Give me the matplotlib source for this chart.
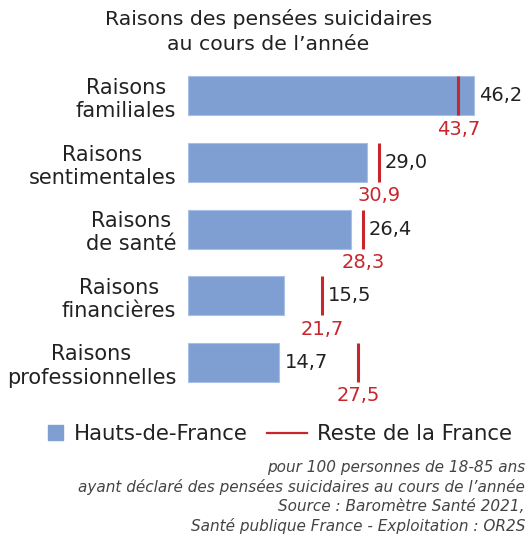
import matplotlib
matplotlib.use("Agg")
import matplotlib.pyplot as plt
from matplotlib.patches import Patch, Rectangle
from matplotlib.lines import Line2D
from matplotlib.legend_handler import HandlerPatch

categories = [
    "Raisons\nfamiliales",
    "Raisons\nsentimentales",
    "Raisons\nde santé",
    "Raisons\nfinancières",
    "Raisons\nprofessionnelles",
]
hdf = [46.2, 29.0, 26.4, 15.5, 14.7]
reste = [43.7, 30.9, 28.3, 21.7, 27.5]

BLUE = "#7f9fd3"
RED = "#c8262c"
INK = "#222222"

plt.rcParams["font.family"] = ["DejaVu Sans"]


def fmt(v):
    return f"{v:.1f}".replace(".", ",")


def square_handle(legend, orig_handle, xdescent, ydescent, width, height, fontsize):
    s = 0.7 * fontsize
    return Rectangle((width - xdescent - s, (height - s) / 2 - ydescent), s, s)


fig = plt.figure(figsize=(5.25, 5.35), dpi=100)
ax = fig.add_axes([188 / 525, 0.2477, 334 / 525, 0.6477])

ypos = list(range(len(categories)))
bar_h = 0.585
ax.barh(ypos, hdf, height=bar_h, color=BLUE, edgecolor="#a9c0e6", linewidth=0.8)

for y, v, r in zip(ypos, hdf, reste):
    ax.plot([r, r], [y - bar_h / 2, y + bar_h / 2], color=RED, linewidth=2.2,
            solid_capstyle="butt")
    # red reference label under the line
    ax.annotate(fmt(r), (r, y + bar_h / 2), xytext=(0, -3), textcoords="offset points",
                ha="center", va="top", color=RED, fontsize=14)
    # value label: after the bar, or after the red line if it is close
    x0 = r if (r > v and r - v < 8) else v
    ax.annotate(fmt(v), (x0, y), xytext=(4, 0), textcoords="offset points",
                ha="left", va="center", color=INK, fontsize=14)

ax.set_xlim(0, 54)
ax.set_ylim(len(categories) - 0.4, -0.6)
ax.set_yticks(ypos)
ax.set_yticklabels(categories, fontsize=15, color=INK, multialignment="center",
                   linespacing=1.2)
ax.tick_params(axis="y", length=0, pad=8.5)
ax.set_xticks([])
for s in ax.spines.values():
    s.set_visible(False)

fig.text(0.511, 0.941, "Raisons des pensées suicidaires\nau cours de l\u2019année",
         ha="center", va="center", fontsize=14.7, color=INK, linespacing=1.45)

handles = [Patch(color=BLUE, label="Hauts-de-France"),
           Line2D([], [], color=RED, linewidth=1.6, label="Reste de la France")]
fig.legend(handles=handles, loc="center left", bbox_to_anchor=(23 / 525, 1 - 434 / 535),
           ncol=2, frameon=False, fontsize=15.3, handlelength=1.88, handletextpad=0.5,
           columnspacing=0.9, borderpad=0, borderaxespad=0,
           handler_map={Patch: HandlerPatch(patch_func=square_handle)},
           labelcolor=INK)

fig.text(1.0, 0.071,
         "pour 100 personnes de 18-85 ans\n"
         "ayant déclaré des pensées suicidaires au cours de l\u2019année\n"
         "Source : Baromètre Santé 2021,\n"
         "Santé publique France - Exploitation : OR2S",
         ha="right", va="center", fontsize=11, style="italic", color="#444444",
         linespacing=1.3)

fig.savefig("out.png", dpi=100)
